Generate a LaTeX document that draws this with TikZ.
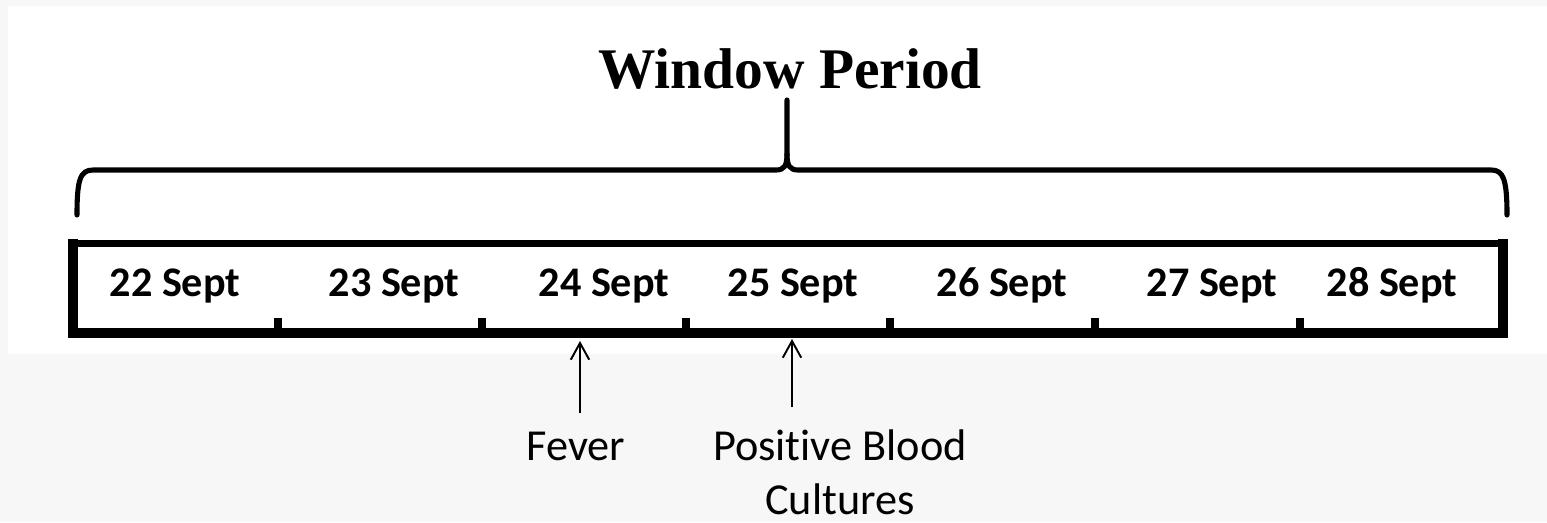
\documentclass[tikz,border=0pt]{standalone}
\usepackage{fontspec}
\setmainfont[Ligatures=NoCommon]{Carlito}
\newfontfamily\titlefont{Liberation Serif}
\usepackage{tikz}
\usetikzlibrary{positioning,calc}
\usetikzlibrary{arrows.meta}
\definecolor{pagegray}{HTML}{F7F7F7}
\tikzstyle{day} = [font=\fontsize{24}{28}\selectfont\bfseries, anchor=base, inner sep=0pt]
\tikzstyle{event} = [font=\fontsize{25.2}{30.7}\selectfont, align=center, anchor=base, inner sep=0pt]
\tikzstyle{edge} = [line width=5.5pt, line cap=rect]
\tikzstyle{tick} = [line width=4.5pt]
\tikzstyle{brace} = [line width=2.9pt, line cap=round, line join=round]
\tikzstyle{arrow} = [line width=1.1pt, -{Straight Barb[length=9.5pt,width=10.5pt]}]

\begin{document}
\begin{tikzpicture}[x=0.02cm, y=-0.02cm]
	\useasboundingbox (0,0) rectangle (1547,522);
	\fill[pagegray] (0,0) rectangle (1547,522);
	\fill[white] (8,6) rectangle (1547,354);
	% title and brace
	\node[font=\titlefont\fontsize{32.7}{36}\selectfont\bfseries, anchor=base, inner sep=0pt] (title) at (790,88) {Window Period};
	\draw[brace] (77,215) .. controls (77,180) and (80,170) .. (93,170) -- (776,170) .. controls (784,170) and (787,166) .. (787,154) -- (787,100);
	\draw[brace] (787,154) .. controls (787,166) and (790,170) .. (798,170) -- (1491,170) .. controls (1503,170) and (1507,178) .. (1507,215);
	% timeline box
	\draw[line width=4pt] (73,243.5) -- (1503,243.5);
	\draw[edge] (73,243.5) -- (73,333) -- (1503,333) -- (1503,243.5);
	\draw[tick] (278,318) -- (278,333);
	\draw[tick] (482,318) -- (482,333);
	\draw[tick] (686,318) -- (686,333);
	\draw[tick] (890,318) -- (890,333);
	\draw[tick] (1095,318) -- (1095,333);
	\draw[tick] (1300,318) -- (1300,333);
	% days
	\node[day] (d22) at (175,296) {22 Sept};
	\node[day] (d23) at (394,296) {23 Sept};
	\node[day] (d24) at (604,296) {24 Sept};
	\node[day] (d25) at (793,296) {25 Sept};
	\node[day] (d26) at (1002,296) {26 Sept};
	\node[day] (d27) at (1212,296) {27 Sept};
	\node[day] (d28) at (1392,296) {28 Sept};
	% events
	\node[event] (fever) at (576,460) {Fever};
	\node[event] (blood) at (840,514) {Positive Blood\\Cultures};
	\coordinate (fevertail) at (580,413);
	\coordinate (fevertip) at (580,341);
	\coordinate (bloodtail) at (792,407);
	\coordinate (bloodtip) at (792,339);
	\draw[arrow] (fevertail) -- (fevertip);
	\draw[arrow] (bloodtail) -- (bloodtip);
\end{tikzpicture}
\end{document}
